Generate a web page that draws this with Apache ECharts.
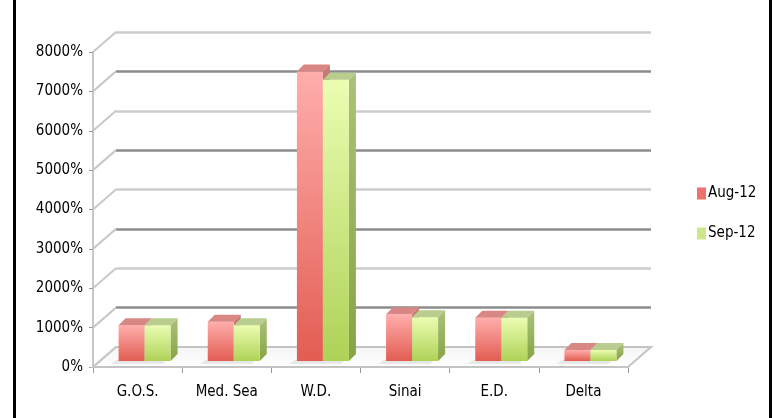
<!DOCTYPE html>
<html>
<head>
<meta charset="utf-8">
<script src="https://cdn.jsdelivr.net/npm/echarts@6/dist/echarts.min.js"></script>
<style>
  html, body { margin: 0; padding: 0; background: #fff; }
  #main { width: 772px; height: 418px; }
</style>
</head>
<body>
<div id="main"></div>
<script>
// data
var categories = ['G.O.S.', 'Med. Sea', 'W.D.', 'Sinai', 'E.D.', 'Delta'];
var aug12 = [910, 1000, 7350, 1190, 1100, 280];
var sep12 = [910, 910, 7140, 1110, 1100, 280];
var yTicks = [0, 1000, 2000, 3000, 4000, 5000, 6000, 7000, 8000];

// 3d look
var DX = 23, DY = -20;           // depth of walls / floor
var BAR_W = 26;                  // one bar
var BAR_DX = 7, BAR_DY = -6;     // bar front face pushed back a bit
var BAR_D = 7;                   // bar depth

var FONT = '"Liberation Sans Narrow", "DejaVu Sans Condensed", sans-serif';

function grad(c0, c1) {
  return new echarts.graphic.LinearGradient(0, 0, 0, 1, [
    { offset: 0, color: c0 },
    { offset: 1, color: c1 }
  ]);
}

function barRender(offset, colors) {
  return function (params, api) {
    var idx = api.value(0);
    var p0 = api.coord([idx, 0]);
    var p1 = api.coord([idx, api.value(1)]);
    var x = p0[0] + BAR_DX + offset;
    var yb = p0[1] + BAR_DY;
    var yt = p1[1] + BAR_DY;
    var d = BAR_D;
    var children = [];
    if (offset < 0) {
      // soft shadow on the floor, down-left of the pair
      children.push({
        type: 'polygon',
        shape: { points: [[x - 2, yb - 1], [x + BAR_W * 2 - 4, yb - 1], [x + BAR_W * 2 - 8, yb + 3], [x - 8, yb + 3]] },
        style: { fill: 'rgba(0,0,0,0.07)', shadowBlur: 4, shadowColor: 'rgba(0,0,0,0.25)' }
      });
    }
    children.push({
      type: 'polygon',
      shape: { points: [[x + BAR_W, yt], [x + BAR_W + d, yt - d], [x + BAR_W + d, yb - d], [x + BAR_W, yb]] },
      style: { fill: grad(colors.side[0], colors.side[1]) }
    });
    children.push({
      type: 'rect',
      shape: { x: x, y: yt, width: BAR_W, height: yb - yt },
      style: { fill: grad(colors.front[0], colors.front[1]) }
    });
    children.push({
      type: 'polygon',
      shape: { points: [[x, yt], [x + BAR_W, yt], [x + BAR_W + d, yt - d], [x + d, yt - d]] },
      style: { fill: colors.top }
    });
    return { type: 'group', children: children };
  };
}

function frameRender(params, api) {
  var v = api.value(1);
  var p = api.coord([0, v]);
  var band = api.size([1, 0])[0];
  var L = p[0] - band / 2;
  var y = p[1];
  var children = [];
  if (v === 0) {
    var R = L + band * categories.length;
    children.push({
      type: 'polygon',
      shape: { points: [[L, y], [R, y], [R + DX, y + DY], [L + DX, y + DY]] },
      style: {
        fill: new echarts.graphic.LinearGradient(0, 0, 0, 1, [
          { offset: 0, color: '#f4f4f4' },
          { offset: 1, color: '#ffffff' }
        ]),
        stroke: '#c4c4c4', lineWidth: 2
      }
    });
  }
  children.push({
    type: 'line',
    shape: { x1: L, y1: y, x2: L + DX, y2: y + DY },
    style: { stroke: '#c8c8c8', lineWidth: 2 }
  });
  return { type: 'group', children: children };
}

var chart = echarts.init(document.getElementById('main'));
chart.setOption({
  animation: false,
  textStyle: { fontFamily: FONT },
  graphic: [
    { type: 'rect', shape: { x: 13, y: 0, width: 3, height: 418 }, style: { fill: '#000' } },
    { type: 'rect', shape: { x: 769, y: 0, width: 3, height: 418 }, style: { fill: '#000' } }
  ],
  legend: {
    orient: 'vertical',
    left: 692,
    top: 181,
    itemWidth: 9,
    itemHeight: 12,
    itemGap: 25,
    icon: 'rect',
    textStyle: { fontFamily: FONT, fontSize: 15, color: '#000', padding: [0, 0, 0, -3] },
    data: ['Aug-12', 'Sep-12']
  },
  grid: [
    { left: 93, right: 144, top: 52, bottom: 51 },
    { left: 116, right: 121, top: 32, bottom: 71 }
  ],
  xAxis: [
    {
      type: 'category',
      gridIndex: 0,
      data: categories,
      axisLine: { lineStyle: { color: '#c4c4c4', width: 2 } },
      axisTick: { show: true, length: 6, lineStyle: { color: '#9a9a9a' } },
      axisLabel: { fontFamily: FONT, fontSize: 15, color: '#000', margin: 18 }
    },
    { type: 'category', gridIndex: 1, data: categories, show: false }
  ],
  yAxis: [
    {
      type: 'value',
      gridIndex: 0,
      min: 0,
      max: 8000,
      interval: 1000,
      axisLine: { show: true, lineStyle: { color: '#c8c8c8', width: 2 } },
      axisTick: { show: true, length: 4, lineStyle: { color: '#9a9a9a' } },
      axisLabel: {
        fontFamily: FONT, fontSize: 15, color: '#000', margin: 10,
        formatter: function (v) { return v + '%'; }
      },
      splitLine: { show: false }
    },
    {
      type: 'value',
      gridIndex: 1,
      min: 0,
      max: 8000,
      interval: 1000,
      axisLine: { show: false },
      axisTick: { show: false },
      axisLabel: { show: false },
      splitLine: { show: true, lineStyle: { color: ['#cdcdcd', '#8c8c8c'], width: 2.5 } }
    }
  ],
  series: [
    {
      name: 'frame',
      type: 'custom',
      xAxisIndex: 0,
      yAxisIndex: 0,
      silent: true,
      renderItem: frameRender,
      data: yTicks.map(function (v) { return [0, v]; })
    },
    {
      name: 'Aug-12',
      type: 'custom',
      xAxisIndex: 0,
      yAxisIndex: 0,
      itemStyle: { color: '#ec726b' },
      renderItem: barRender(-BAR_W, {
        front: ['#ffaeac', '#e25d52'],
        side: ['#c97a76', '#b25048'],
        top: '#d98784'
      }),
      data: aug12.map(function (v, i) { return [i, v]; })
    },
    {
      name: 'Sep-12',
      type: 'custom',
      xAxisIndex: 0,
      yAxisIndex: 0,
      itemStyle: { color: '#cde88c' },
      renderItem: barRender(0, {
        front: ['#ebfdb2', '#aed257'],
        side: ['#abc17a', '#86a444'],
        top: '#b9cd8f'
      }),
      data: sep12.map(function (v, i) { return [i, v]; })
    }
  ]
});
</script>
</body>
</html>
